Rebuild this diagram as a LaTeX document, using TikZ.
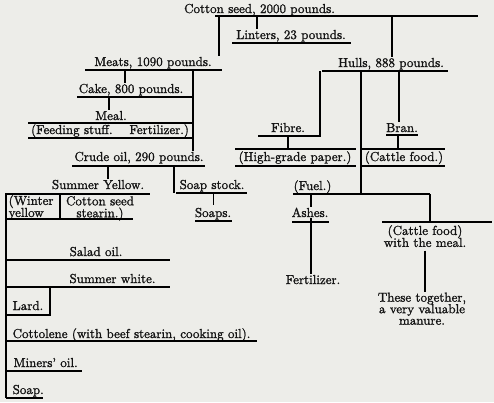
\documentclass[tikz,border=0pt]{standalone}
\usepackage{fontspec}
\setmainfont{lmroman10-regular.otf}[FakeBold=1.4]
\usetikzlibrary{positioning}
\definecolor{paper}{RGB}{237,237,233}
\definecolor{ink}{RGB}{20,20,20}
\newcommand\tightlines{\lineskiplimit-9pt\relax}
\tikzset{
  lbl/.style={inner sep=0pt,anchor=base,text=ink,font=\fontsize{13}{12}\selectfont},
  lbll/.style={lbl,anchor=base west},
  blk/.style={inner sep=0pt,align=center,text=ink,font={\fontsize{13}{12}\selectfont\tightlines}}
}
\begin{document}
\begin{tikzpicture}[x=1pt,y=-1pt,line width=1.3pt]
\fill [paper] (0,0) rectangle (494,402);
\useasboundingbox (0,0) rectangle (494,402);
% text
\node [lbl] (cotton) at (259.5,13) {Cotton seed, 2000 pounds.};
\node [lbl] (linters) at (291,39) {Linters, 23 pounds.};
\node [lbl] (meats) at (153,66) {Meats, 1090 pounds.};
\node [lbl] (cake) at (131,93) {Cake, 800 pounds.};
\node [lbl] (meal) at (111,120) {Meal.};
\node [lbl] (feed) at (110,134) {(Feeding stuff.\hspace{1.3em}Fertilizer.)};
\node [lbl] (crude) at (139,161) {Crude oil, 290 pounds.};
\node [lbl] (sumy) at (98,189) {Summer Yellow.};
\node [lbl] (stock) at (212,189) {Soap stock.};
\node [blk,align=left,anchor=north west] (winter) at (8,194.5) {(Winter\\yellow};
\node [blk,anchor=north] (stearin) at (100,195.5) {Cotton seed\\stearin.)};
\node [lbl] (soaps) at (213,217) {Soaps.};
\node [lbl] (salad) at (96,256) {Salad oil.};
\node [lbl] (white) at (112.5,283) {Summer white.};
\node [lbll] (lard) at (12,310) {Lard.};
\node [lbll] (cottolene) at (12,338) {Cottolene (with beef stearin, cooking oil).};
\node [lbll] (miners) at (13,367) {Miners' oil.};
\node [lbll] (soap) at (12,394) {Soap.};
\node [lbl] (hulls) at (391,67) {Hulls, 888 pounds.};
\node [lbl] (fibre) at (288,132) {Fibre.};
\node [lbl] (paper) at (295,161) {(High-grade paper.)};
\node [lbl] (bran) at (402,132) {Bran.};
\node [lbl] (cattle) at (404,161) {(Cattle food.)};
\node [lbl] (fuel) at (312.5,190) {(Fuel.)};
\node [lbl] (ashes) at (310,217) {Ashes.};
\node [lbl] (fert) at (313,284) {Fertilizer.};
\node [blk,anchor=north] (withmeal) at (425,224.5) {(Cattle food)\\with the meal.};
\node [blk,anchor=north,font={\fontsize{13}{11.5}\selectfont\tightlines}] (manure) at (422,292) {These together,\\a very valuable\\manure.};
% rules
\coordinate (topR) at (215,16);
\coordinate (lintersR) at (232,43);
\coordinate (meatsR) at (85,70);
\coordinate (cakeR) at (77,97);
\coordinate (mealR) at (28,123);
\coordinate (feedR) at (28,138);
\coordinate (crudeR) at (72,166);
\coordinate (sumyR) at (5,194);
\coordinate (stockR) at (176,193);
\coordinate (stearinR) at (6,219);
\coordinate (soapsR) at (195,221);
\coordinate (saladR) at (6,260);
\coordinate (whiteR) at (6,287);
\coordinate (lardR) at (6,315);
\coordinate (cottoR) at (6,341);
\coordinate (minersR) at (6,371);
\coordinate (soapR) at (6,398);
\coordinate (hullsR) at (322,71);
\coordinate (fibreR) at (258,136);
\coordinate (paperT) at (235,149);
\coordinate (paperR) at (235,166);
\coordinate (branR) at (386,135);
\coordinate (cattleT) at (362,149);
\coordinate (cattleR) at (362,166);
\coordinate (fuelR) at (293,194);
\coordinate (ashesR) at (292,222);
\coordinate (withmealT) at (382,222);
\draw (topR) -- (478,16);
\draw (lintersR) -- (351,43);
\draw (meatsR) -- (222,70);
\draw (cakeR) -- (192,97);
\draw (mealR) -- (192,123);
\draw (feedR) -- (192,138);
\draw (crudeR) -- (205,166);
\draw (sumyR) -- (150,194);
\draw (stockR) -- (247,193);
\draw (stearinR) -- (133,219);
\draw (soapsR) -- (232,221);
\draw (saladR) -- (170,260);
\draw (whiteR) -- (170,287);
\draw (lardR) -- (50,315) -- (50,287);
\draw (cottoR) -- (257,341);
\draw (minersR) -- (82,371);
\draw (soapR) -- (43,398);
\draw (sumyR -| soapR) -- (soapR);
\draw (hullsR) -- (448,71);
\draw (fibreR) -- (320,136) -- (320,71);
\draw (paperT) -- (356,149);
\draw (paperR) -- (356,166);
\draw (branR) -- (418,135);
\draw (cattleT) -- (445,149);
\draw (cattleR) -- (445,166);
\draw (fuelR) -- (430,194);
\draw (ashesR) -- (329,222);
\draw (withmealT) -- (492,222);
% connectors
\coordinate (j1) at (219,16);
\coordinate (j2) at (257,16);
\coordinate (j3) at (392,16);
\coordinate (j4) at (125,70);
\coordinate (j5) at (109,97);
\coordinate (j6) at (193,70);
\coordinate (j7) at (108,166);
\coordinate (j8) at (174,166);
\coordinate (j9) at (60,194);
\coordinate (j10) at (288,136);
\coordinate (j11) at (399,71);
\coordinate (j12) at (398,135);
\coordinate (j13) at (361,71);
\coordinate (j14) at (311,194);
\coordinate (j15) at (430,194);
\draw (j1) -- (j1 |- meats.north);
\draw (j2) -- (j2 |- linters.north);
\draw (j3) -- (j3 |- hulls.north);
\draw (j4) -- (j4 |- cake.north);
\draw (j5) -- (j5 |- meal.north);
\draw (j6) -- (j6 |- crude.north);
\draw (j7) -- (j7 |- sumy.north);
\draw (j8) -- (j8 |- stockR);
\draw (j9) -- (j9 |- stearinR);
\draw [line width=0.9pt,shorten >=2pt] (soaps.north |- stockR) -- (soaps.north);
\draw (j10) -- (j10 |- paperT);
\draw (j11) -- (j11 |- bran.north);
\draw (j12) -- (j12 |- cattleT);
\draw (j13) -- (j13 |- fuelR);
\draw (j14) -- (j14 |- ashes.north);
\draw (ashes.south -| j14) -- (j14 |- fert.north);
\draw (j15) -- (j15 |- withmealT);
\draw [shorten <=3pt] (withmeal.south) -- (withmeal.south |- manure.north);
\end{tikzpicture}
\end{document}
